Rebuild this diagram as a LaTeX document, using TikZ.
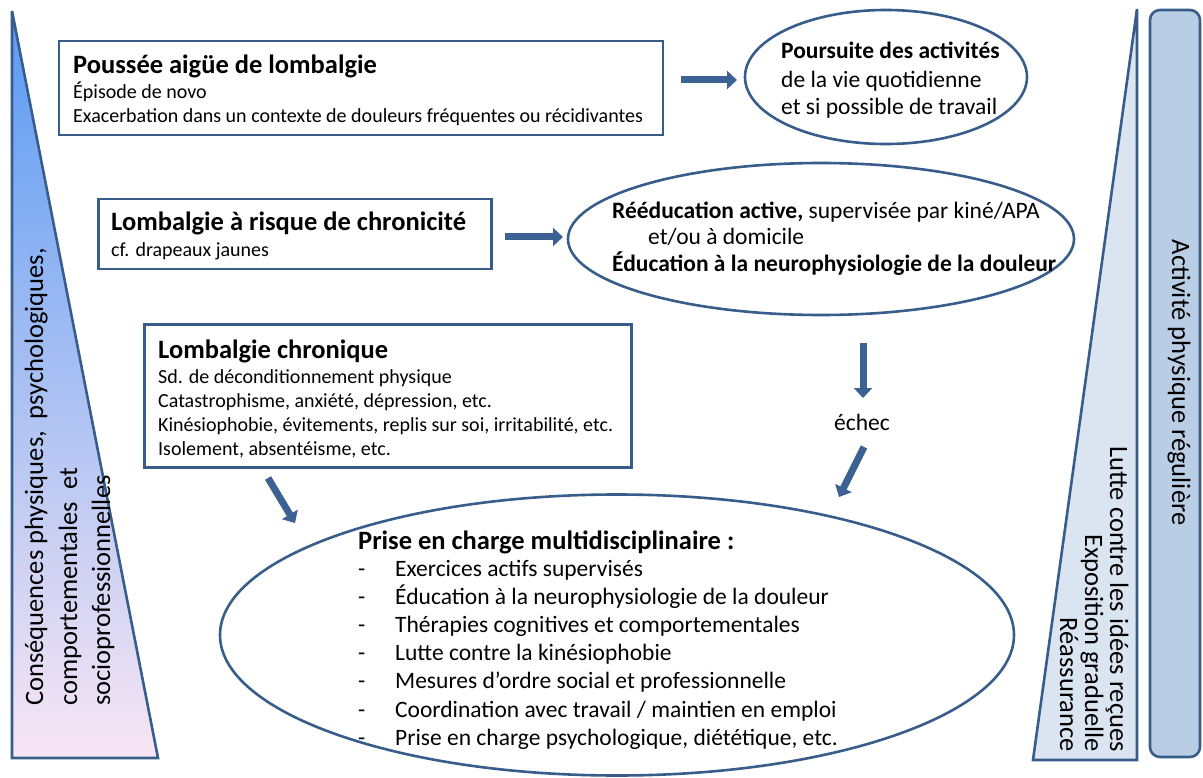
\documentclass[tikz,border=0pt]{standalone}
\usepackage{fontspec}
\setmainfont{Carlito}
\usetikzlibrary{arrows.meta,shapes.geometric}
\definecolor{bord}{HTML}{385D8A}
\definecolor{arrc}{HTML}{3C6293}
\definecolor{gradtop}{HTML}{5A9AF2}
\definecolor{gradbot}{HTML}{F8E6F4}
\definecolor{trifill}{HTML}{DBE5F1}
\definecolor{actfill}{HTML}{B9CDE5}
\tikzset{
  boxn/.style={draw=bord, line width=2.6pt, rectangle, inner sep=0pt, fill=white},
  elln/.style={draw=bord, line width=2.6pt, ellipse, inner sep=0pt},
  fat/.style={draw=arrc, line width=7pt, -{Triangle[length=10pt,width=18pt]}},
  txt/.style={anchor=base west, inner sep=0pt},
  head/.style={txt, font=\fontsize{26.5}{30}\selectfont\bfseries},
  small/.style={txt, font=\fontsize{20}{24}\selectfont},
  mid/.style={txt, font=\fontsize{23.5}{28}\selectfont},
  midb/.style={txt, font=\fontsize{23.5}{28}\selectfont\bfseries},
  ell/.style={txt, font=\fontsize{23.5}{28}\selectfont},
  side/.style={inner sep=0pt, font=\fontsize{26.5}{30}\selectfont},
}
\begin{document}
\begin{tikzpicture}[x=1pt,y=-1pt]
\useasboundingbox (0,0) rectangle (1203,778);
\fill[white] (0,0) rectangle (1203,778);

% left triangle
\coordinate (lt1) at (12,11);
\coordinate (lt2) at (12,758);
\coordinate (lt3) at (158,758);
\shade[top color=gradtop, bottom color=gradbot] (lt1) -- (lt2) -- (lt3) -- cycle;
\draw[bord, line width=2.6pt, line join=miter] (lt1) -- (lt2) -- (lt3) -- cycle;
\node[side, rotate=90, anchor=base west] (lta) at (43,706) {Conséquences physiques,\ \ psychologiques,};
\node[side, rotate=90, anchor=base west] (ltb) at (77,706) {comportementales\ \ et};
\node[side, rotate=90, anchor=base west] (ltc) at (110,706) {socioprofessionnelles};

% right triangle
\coordinate (rt1) at (1137,9);
\coordinate (rt2) at (1137,760);
\coordinate (rt3) at (1033,760);
\draw[bord, fill=trifill, line width=2.6pt, line join=miter] (rt1) -- (rt2) -- (rt3) -- cycle;
\node[side, rotate=-90, anchor=base east] (rta) at (1110,752) {Lutte contre les idées reçues};
\node[side, rotate=-90, anchor=base east] (rtb) at (1085,752) {Exposition graduelle};
\node[side, rotate=-90, anchor=base east] (rtc) at (1060,752) {Réassurance};

% activity bar
\node[draw=bord, fill=actfill, line width=2.6pt, rounded corners=10pt, minimum width=50pt, minimum height=747pt, inner sep=0pt] (act) at (1175,383.5) {};
\node[side, rotate=-90, anchor=base] (acttxt) at (1172,382.5) {Activité physique régulière};

% boxes
\node[boxn, minimum width=604pt, minimum height=94pt] (b1) at (361,88) {};
\node[head] (b1h) at (73,74) {Poussée aigüe de lombalgie};
\node[small] (b1a) at (73,99) {Épisode de novo};
\node[small] (b1b) at (73,123) {Exacerbation dans un contexte de douleurs fréquentes ou récidivantes};

\node[boxn, minimum width=393pt, minimum height=70pt] (b2) at (295,234) {};
\node[head] (b2h) at (111,231) {Lombalgie à risque de chronicité};
\node[small] (b2a) at (111,257) {cf. drapeaux jaunes};

\node[boxn, minimum width=487pt, minimum height=143pt] (b3) at (388,396) {};
\node[head] (b3h) at (158,358) {Lombalgie chronique};
\node[small] (b3a) at (158,383) {Sd. de déconditionnement physique};
\node[small] (b3b) at (158,407) {Catastrophisme, anxiété, dépression, etc.};
\node[small] (b3c) at (158,431) {Kinésiophobie, évitements, replis sur soi, irritabilité, etc.};
\node[small] (b3d) at (158,455) {Isolement, absentéisme, etc.};

% ellipses
\node[elln, minimum width=282pt, minimum height=134pt] (e1) at (886,77) {};
\node[midb] (e1a) at (781,59) {Poursuite des activités};
\node[mid] (e1b) at (781,88) {de la vie quotidienne};
\node[mid] (e1c) at (781,115) {et si possible de travail};

\node[elln, minimum width=506pt, minimum height=152pt] (e2) at (821,239) {};
\node[mid] (e2a) at (612,219) {\textbf{Rééducation active,} supervisée par kiné/APA};
\node[mid] (e2b) at (648,245) {et/ou à domicile};
\node[midb] (e2c) at (612,272) {Éducation à la neurophysiologie de la douleur};

\node[elln, minimum width=794pt, minimum height=281pt] (e3) at (617,635) {};
\node[head] (e3h) at (358,549) {Prise en charge multidisciplinaire :};
\foreach \i/\t in {0/{Exercices actifs supervisés},
  1/{Éducation à la neurophysiologie de la douleur},
  2/{Thérapies cognitives et comportementales},
  3/{Lutte contre la kinésiophobie},
  4/{Mesures d’ordre social et professionnelle},
  5/{Coordination avec travail / maintien en emploi},
  6/{Prise en charge psychologique, diététique, etc.}} {
  \node[ell] (d\i) at (358,576+28.2*\i) {-};
  \node[ell] (it\i) at (395,576+28.2*\i) {\t};
}

\node[mid, anchor=base] (echec) at (862,430) {échec};

% arrows
\coordinate (a1s) at (681,80);  \coordinate (a1e) at (737,80);
\coordinate (a2s) at (505,237); \coordinate (a2e) at (563,237);
\coordinate (a3s) at (863,343); \coordinate (a3e) at (863,398);
\coordinate (a4s) at (864,447); \coordinate (a4e) at (839,497);
\coordinate (a5s) at (268,478); \coordinate (a5e) at (295,523);
\draw[fat] (a1s) -- (a1e);
\draw[fat] (a2s) -- (a2e);
\draw[fat] (a3s) -- (a3e);
\draw[fat] (a4s) -- (a4e);
\draw[fat] (a5s) -- (a5e);
\end{tikzpicture}
\end{document}
